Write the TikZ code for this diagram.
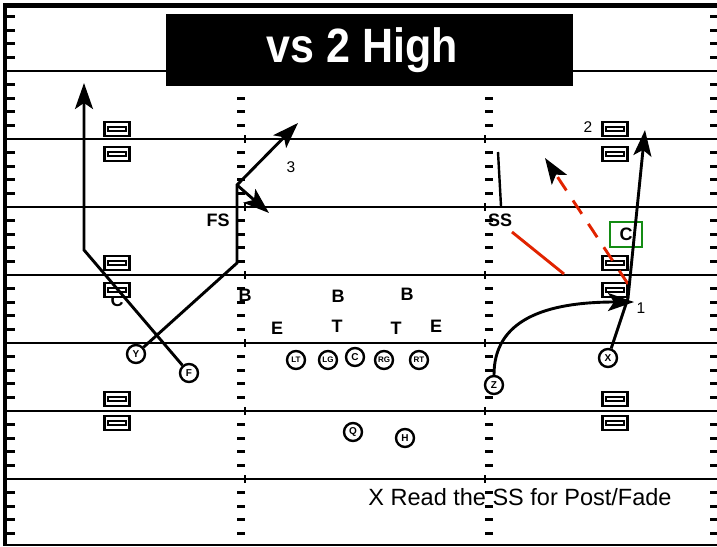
\documentclass[tikz,border=0pt]{standalone}
\usepackage{fontspec}
\setmainfont{Liberation Sans}
\usetikzlibrary{arrows.meta}

\definecolor{rouge}{RGB}{225,35,0}
\definecolor{vert}{RGB}{20,140,20}

\tikzset{
  joueur/.style={draw,circle,line width=2.4pt,fill=white,inner sep=0pt,
    minimum size=18pt,font=\bfseries\fontsize{10}{10}\selectfont},
  ligne/.style={joueur,font=\bfseries\fontsize{8}{8}\selectfont},
  receveur/.style={draw,rectangle,line width=2.6pt,fill=white,inner sep=0pt,
    minimum width=25pt,minimum height=14pt,
    path picture={\draw[line width=2.4pt]
      ([xshift=-9pt,yshift=-2.2pt]path picture bounding box.center) rectangle
      ([xshift=9pt,yshift=2.2pt]path picture bounding box.center);}},
  defense/.style={inner sep=0pt,font=\bfseries\fontsize{18}{18}\selectfont},
  numero/.style={inner sep=0pt,font=\fontsize{15.5}{15.5}\selectfont},
  route/.style={line width=2.9pt},
  fleche/.style={-{Stealth[length=26pt,width=18pt,inset=6pt]}},
  trait/.style={line width=3pt},
}

\begin{document}
\begin{tikzpicture}[x=1pt,y=-1pt]
\useasboundingbox (0,0) rectangle (717,546);

% Terrain
\draw[line width=5pt] (3,5.5) -- (717,5.5);
\draw[line width=4.5pt] (5,3) -- (5,546);
\draw[line width=2.4pt] (5,545) -- (717,545);
\foreach \l in {71,139,...,479}{
  \draw[line width=2.4pt] (5,\l) -- (717,\l);
  \draw[line width=2.4pt] (245,\l-4) -- (245,\l+4);
  \draw[line width=2.4pt] (485,\l-4) -- (485,\l+4);
  \foreach \j in {1,2,3,4}{
    \draw[trait] (7,{\l-13.6*\j}) -- (15,{\l-13.6*\j});
    \draw[trait] (237,{\l-13.6*\j}) -- (245,{\l-13.6*\j});
    \draw[trait] (485,{\l-13.6*\j}) -- (493,{\l-13.6*\j});
    \draw[trait] (710,{\l-13.6*\j}) -- (717,{\l-13.6*\j});
  }
}
\foreach \j in {1,2,3,4}{
  \draw[trait] (7,{479+13.6*\j}) -- (15,{479+13.6*\j});
  \draw[trait] (237,{479+13.6*\j}) -- (245,{479+13.6*\j});
  \draw[trait] (485,{479+13.6*\j}) -- (493,{479+13.6*\j});
  \draw[trait] (710,{479+13.6*\j}) -- (717,{479+13.6*\j});
}

% Titre
\node[fill=black,anchor=north west,inner sep=0pt,
  minimum width=407pt,minimum height=72pt]
(titre)
at (166,14)
{};
\node[text=white,inner sep=0pt,
  font=\bfseries\fontsize{43}{43}\selectfont]
(titretexte)
at (362.5,50)
{\scalebox{1}[1.12]{vs 2 High}};

% Receveurs
\node[defense] (coinC) at (117,300) {C};
\node[receveur] (recA) at (117,129) {};
\node[receveur] (recB) at (117,154) {};
\node[receveur] (recC) at (117,263) {};
\node[receveur] (recD) at (117,290) {};
\node[receveur] (recE) at (117,399) {};
\node[receveur] (recF) at (117,423) {};
\node[receveur] (recG) at (615,129) {};
\node[receveur] (recH) at (615,154) {};
\node[receveur] (recI) at (615,263) {};
\node[receveur] (recJ) at (615,290) {};
\node[receveur] (recK) at (615,399) {};
\node[receveur] (recL) at (615,423) {};

% Attaque
\node[joueur] (Y) at (136,354) {Y};
\node[joueur] (F) at (189,373) {F};
\node[ligne] (LT) at (296,360) {LT};
\node[ligne] (LG) at (328,360) {LG};
\node[joueur] (Ce) at (355,357) {C};
\node[ligne] (RG) at (384,360) {RG};
\node[ligne] (RT) at (419,360) {RT};
\node[joueur] (Q) at (353,432) {Q};
\node[joueur] (H) at (405,438) {H};
\node[joueur] (Z) at (494,385) {Z};
\node[joueur] (X) at (608,358) {X};

% Defense
\node[defense] (FS) at (218,220) {FS};
\node[defense] (SS) at (500,220) {SS};
\node[defense] (B1) at (245,295) {B};
\node[defense] (B2) at (338,296) {B};
\node[defense] (B3) at (407,294) {B};
\node[defense] (E1) at (277,328) {E};
\node[defense] (T1) at (337,326) {T};
\node[defense] (T2) at (396,328) {T};
\node[defense] (E2) at (436,326) {E};
\node[draw=vert,line width=2.4pt,minimum width=32pt,minimum height=25pt,
  inner sep=0pt,font=\bfseries\fontsize{18}{18}\selectfont]
(boiteC)
at (626,234.5)
{C};

% Numeros
\node[numero] (num3) at (291,167) {3};
\node[numero] (num2) at (588,127) {2};
\node[numero] (num1) at (641,308) {1};

% Routes
\coordinate (coinF) at (84,250);
\coordinate (finF) at (84,83);
\draw[route,fleche] (F) -- (coinF) -- (finF);

\coordinate (coinY) at (237,263);
\coordinate (brisY) at (237,185);
\coordinate (fin3) at (298,123);
\coordinate (finOut) at (269,213);
\draw[route,fleche] (Y) -- (coinY) -- (brisY) -- (fin3);
\draw[route,fleche] (brisY) -- (finOut);

\coordinate (ssHaut) at (498,152);
\coordinate (ssBas) at (501,206);
\draw[line width=2.4pt] (ssHaut) -- (ssBas);

\coordinate (rougeA) at (512,232);
\coordinate (rougeB) at (564,274);
\draw[rouge,route] (rougeA) -- (rougeB);

\coordinate (rougeC) at (628,284);
\coordinate (finPost) at (545,158);
\draw[rouge,route,dash pattern=on 16pt off 12pt,
  -{Stealth[length=26pt,width=18pt,inset=6pt,black]}]
  (rougeC) -- (finPost);

\coordinate (fin1) at (634,302);
\draw[route,fleche] (Z.north) .. controls (494,320) and (545,302) .. (fin1);

\coordinate (coinX) at (628,298);
\coordinate (finX) at (645,130);
\draw[route,fleche] (X) -- (coinX) -- (finX);

% Note
\node[inner sep=0pt,font=\fontsize{23.5}{23.5}\selectfont]
(note)
at (520,497)
{X Read the SS for Post/Fade};

\end{tikzpicture}
\end{document}
